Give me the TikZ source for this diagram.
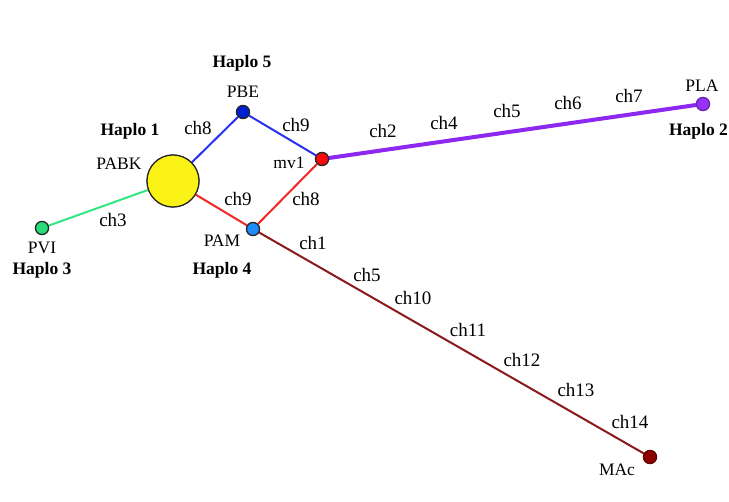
\documentclass[tikz,border=0pt]{standalone}
\usepackage{fontspec}
\setmainfont{Liberation Serif}
\begin{document}
\begin{tikzpicture}[x=1pt,y=-1pt,
  hap/.style={circle,draw=black!85,line width=1.2pt,inner sep=0pt,minimum size=13pt},
  lab/.style={font=\fontsize{19}{19}\selectfont,inner sep=0pt,anchor=center},
  nm/.style={font=\fontsize{17.5}{17.5}\selectfont,inner sep=0pt,anchor=center},
  hl/.style={font=\fontsize{17.5}{17.5}\selectfont\bfseries,inner sep=0pt,anchor=center},
  edge/.style={line width=2pt}]
\definecolor{cyel}{RGB}{250,242,20}
\definecolor{cblue}{RGB}{40,50,240}
\definecolor{cred}{RGB}{240,40,40}
\definecolor{cgreen}{RGB}{50,230,130}
\definecolor{cpurp}{RGB}{140,40,240}
\definecolor{cmar}{RGB}{140,25,25}
\definecolor{nblue}{RGB}{0,30,210}
\definecolor{nred}{RGB}{250,10,10}
\definecolor{nlblue}{RGB}{30,140,250}
\definecolor{ngreen}{RGB}{40,220,120}
\definecolor{npurp}{RGB}{150,50,250}
\definecolor{nmar}{RGB}{140,0,0}
\path[use as bounding box] (0,0) rectangle (729,502);
\fill[white] (0,0) rectangle (729,502);
% nodes (coordinates for connectors)
\node[hap,fill=cyel,minimum size=52pt] (pabk) at (173,181) {};
\node[hap,fill=nblue] (pbe) at (243,112) {};
\node[hap,fill=nred] (mv1) at (322,159) {};
\node[hap,fill=nlblue] (pam) at (253,229) {};
\node[hap,fill=ngreen] (pvi) at (42,228) {};
\node[hap,fill=npurp,draw=npurp!70!black] (pla) at (703,104) {};
\node[hap,fill=nmar,draw=nmar!70!black] (mac) at (650,457) {};
% edges
\draw[edge,cblue] (pabk) -- (pbe);
\draw[edge,cblue] (pbe) -- (mv1);
\draw[edge,cred] (pabk) -- (pam);
\draw[edge,cred] (pam) -- (mv1);
\draw[edge,cgreen] (pvi) -- (pabk);
\draw[line width=4pt,cpurp] (mv1) -- (pla);
\draw[edge,cmar] (pam) -- (mac);
% redraw node discs on top of the connectors
\node[hap,fill=cyel,minimum size=52pt] at (pabk) {};
\node[hap,fill=nblue] at (pbe) {};
\node[hap,fill=nred] at (mv1) {};
\node[hap,fill=nlblue] at (pam) {};
\node[hap,fill=ngreen] at (pvi) {};
\node[hap,fill=npurp,draw=npurp!70!black] at (pla) {};
\node[hap,fill=nmar,draw=nmar!70!black] at (mac) {};
% names
\node[hl] (h5) at (242,63) {Haplo 5};
\node[nm] (tpbe) at (243,92) {PBE};
\node[hl] (h1) at (130,131) {Haplo 1};
\node[nm] (tpabk) at (119,164) {PABK};
\node[nm] (tmv1) at (289,163) {mv1};
\node[nm] (tpvi) at (42,248) {PVI};
\node[hl] (h3) at (42,270) {Haplo 3};
\node[nm] (tpam) at (222,241) {PAM};
\node[hl] (h4) at (222,270) {Haplo 4};
\node[nm] (tmac) at (617,470) {MAc};
\node[nm] (tpla) at (702,86) {PLA};
\node[hl] (h2) at (698.5,131) {Haplo 2};
% edge labels
\node[lab] (l1) at (198,128) {ch8};
\node[lab] (l2) at (296,125) {ch9};
\node[lab] (l3) at (238,199) {ch9};
\node[lab] (l4) at (306,199) {ch8};
\node[lab] (l5) at (113,220) {ch3};
\node[lab] (l6) at (313,243) {ch1};
\node[lab] (l7) at (367,275) {ch5};
\node[lab] (l8) at (413,298) {ch10};
\node[lab] (l9) at (468,330) {ch11};
\node[lab] (l10) at (522,360) {ch12};
\node[lab] (l11) at (576,390) {ch13};
\node[lab] (l12) at (630,422) {ch14};
\node[lab] (l13) at (383,131) {ch2};
\node[lab] (l14) at (444,123) {ch4};
\node[lab] (l15) at (507,111) {ch5};
\node[lab] (l16) at (568,103) {ch6};
\node[lab] (l17) at (629,96) {ch7};
\end{tikzpicture}
\end{document}
